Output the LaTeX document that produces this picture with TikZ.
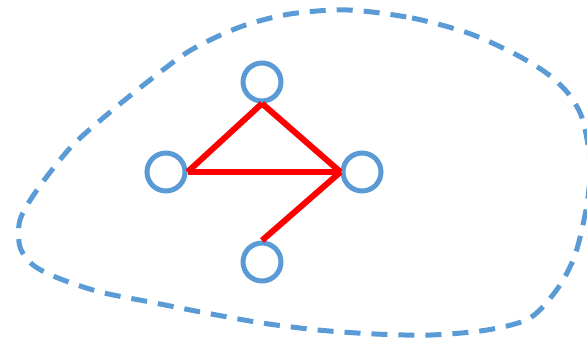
\documentclass[tikz,border=0pt]{standalone}
\begin{document}
\begin{tikzpicture}[x=0.03cm, y=-0.03cm, line width=0.15cm,
    vertex/.style={circle, draw=blob, inner sep=0pt, minimum size=1.14cm},
    edge/.style={red, line width=0.18cm, line cap=butt}]
    \definecolor{blob}{RGB}{91,155,213}
    % Picture frame
    \useasboundingbox (0,0) rectangle (587,345);
    \clip (0,0) rectangle (587,345);

    % 1. Dashed closed curve
    \draw[blob, dash pattern=on 0.48cm off 0.33cm] plot[smooth cycle] coordinates {
        (348,10) (412,18) (468,33) (513,53) (545,72) (567,92) (581,115)
        (588,145) (590,175) (586,210) (575,255) (558,288) (530,318)
        (487,330) (431,335) (375,334) (318,330) (262,323) (206,313)
        (150,302) (100,292) (58,278) (33,265) (20,247) (20,220) (37,190)
        (71,147) (109,113) (150,80) (191,50) (240,27) (290,14)};

    % 2. Vertices
    \node[vertex] (T) at (262,82) {};
    \node[vertex] (L) at (166,172) {};
    \node[vertex] (R) at (362,172) {};
    \node[vertex] (B) at (262,262) {};

    % 3. Edges
    \draw[edge] (T.south) -- (L.east);
    \draw[edge] (T.south) -- (R.west);
    \draw[edge] (L.east) -- (R.west);
    \draw[edge] (R.west) -- (B.north);
\end{tikzpicture}
\end{document}
